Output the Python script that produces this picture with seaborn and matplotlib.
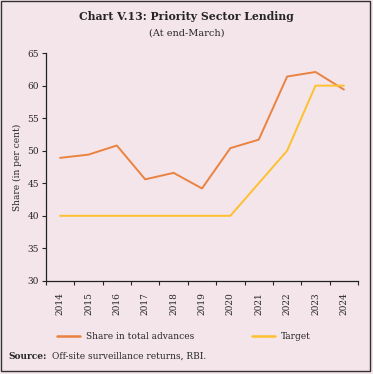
import pandas as pd
import numpy as np
import seaborn as sns
import matplotlib.pyplot as plt
from matplotlib.patches import Rectangle

years = ["2014", "2015", "2016", "2017", "2018", "2019", "2020", "2021", "2022", "2023", "2024"]
share = [48.9, 49.4, 50.8, 45.6, 46.6, 44.2, 50.4, 51.7, 61.4, 62.1, 59.4]
target = [40, 40, 40, 40, 40, 40, 40, 45, 50, 60, 60]

bg = "#f4e5ea"
sns.set_style("ticks")
plt.rcParams["font.family"] = ["DejaVu Serif"]

df = pd.DataFrame({"Year": years * 2,
                   "Value": share + target,
                   "Series": ["Share in total advances"] * len(years) + ["Target"] * len(years)})

fig = plt.figure(figsize=(3.73, 3.74), dpi=100, facecolor=bg)
ax = fig.add_axes([0.123, 0.249, 0.837, 0.609], facecolor=bg)

graph = sns.lineplot(data=df, x="Year", y="Value", hue="Series",
                     palette=["#ea8240", "#fdc02f"], linewidth=1.4, ax=ax, legend=False)

ax.set_xlim(-0.5, 10.5)
ax.set_ylim(30, 65)
ax.set_yticks(range(30, 66, 5))
ax.set_xticks(range(len(years)))
ax.set_xticklabels(years, rotation=90, fontsize=6.5)
ax.set_xticks(np.arange(-0.5, 11, 1), minor=True)
ax.tick_params(axis="x", which="major", length=0, pad=8)
ax.tick_params(axis="x", which="minor", length=3, width=0.8)
ax.tick_params(axis="y", labelsize=6.5, length=3, width=0.8, pad=2)
ax.set_xlabel("")
ax.set_ylabel("Share (in per cent)", fontsize=6.5, labelpad=4)
sns.despine(ax=ax)
for s in ["left", "bottom"]:
    ax.spines[s].set_linewidth(0.9)
    ax.spines[s].set_color("#222222")

# legend below the axes
h1 = plt.Line2D([], [], color="#ea8240", linewidth=1.8)
h2 = plt.Line2D([], [], color="#fdc02f", linewidth=1.8)
fig.legend([h1, h2], ["Share in total advances", "Target"], ncol=2,
           loc="center", bbox_to_anchor=(0.492, 0.099), frameon=False,
           fontsize=6.5, handlelength=2.6, columnspacing=6.4, handletextpad=0.6)

fig.text(0.5, 0.955, "Chart V.13: Priority Sector Lending", ha="center", va="center",
         fontsize=7.8, fontweight="bold")
fig.text(0.5, 0.912, "(At end-March)", ha="center", va="center", fontsize=7)
fig.text(0.022, 0.047, "Source:", ha="left", va="center", fontsize=6.5, fontweight="bold")
fig.text(0.14, 0.047, "Off-site surveillance returns, RBI.", ha="left", va="center", fontsize=6.5)

fig.patches.append(Rectangle((0.003, 0.008), 0.989, 0.988, transform=fig.transFigure,
                             fill=False, edgecolor="#333333", linewidth=1.0))

plt.savefig("out.png", dpi=100, facecolor=bg)
